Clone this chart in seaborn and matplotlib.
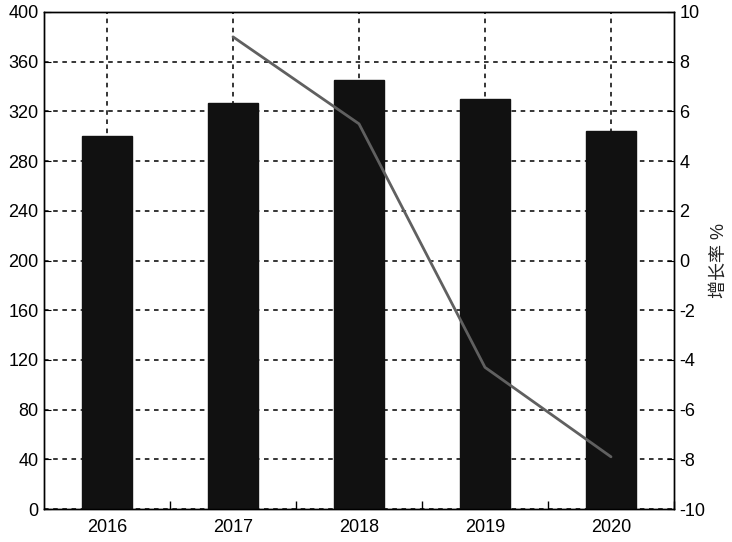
import numpy as np
import pandas as pd
import seaborn as sns
import matplotlib.pyplot as plt

# 数据
years = ['2016', '2017', '2018', '2019', '2020']
values = [300, 327, 345, 330, 304]
rate_years = ['2017', '2018', '2019', '2020']
rates = [9.0, 5.5, -4.3, -7.9]

sns.set_style('white')
plt.rcParams['font.family'] = ['Liberation Sans', 'Noto Sans CJK SC', 'DejaVu Sans']
plt.rcParams['axes.unicode_minus'] = False

fig = plt.figure(figsize=(7.32, 5.42), dpi=100)
ax = fig.add_axes([44 / 732, 33 / 542, 630 / 732, 497 / 542])

bar_df = pd.DataFrame({'year': years, 'value': values})
sns.barplot(data=bar_df, x='year', y='value', color='#111111', width=0.4,
            saturation=1, edgecolor='#111111', ax=ax, zorder=3)

ax.set_xlim(-0.5, len(years) - 0.5)
ax.set_ylim(0, 400)
ax.set_yticks(np.arange(0, 401, 40))
ax.set_xlabel('')
ax.set_ylabel('')
ax.set_xticks(np.arange(len(years)) + 0.5, minor=True)
ax.grid(True, which='major', color='black', linestyle=(0, (3, 3)), linewidth=1.1, zorder=1)
ax.set_axisbelow(True)
ax.tick_params(axis='both', which='both', direction='in', labelsize=13,
               color='black', labelcolor='black', bottom=True, left=True)
ax.tick_params(axis='x', which='major', length=0, pad=7)
ax.tick_params(axis='x', which='minor', length=6, width=1)
ax.tick_params(axis='y', length=5, pad=4)
for s in ax.spines.values():
    s.set_color('black')
    s.set_linewidth(1)

# 增长率
ax2 = ax.twinx()
rate_df = pd.DataFrame({'x': [years.index(y) for y in rate_years], 'rate': rates})
sns.lineplot(data=rate_df, x='x', y='rate', color='#606060', linewidth=2, ax=ax2)
ax2.set_ylim(-10, 10)
ax2.set_yticks(np.arange(-10, 11, 2))
ax2.set_xlabel('')
ax2.tick_params(axis='y', direction='in', labelsize=13, length=5, pad=4,
                color='black', labelcolor='black', right=True)
ax2.set_ylabel('增长率 %', fontsize=13, labelpad=4, color='#222222', rotation=90)
for s in ax2.spines.values():
    s.set_color('black')
    s.set_linewidth(1)

fig.savefig('out.png', dpi=100)
